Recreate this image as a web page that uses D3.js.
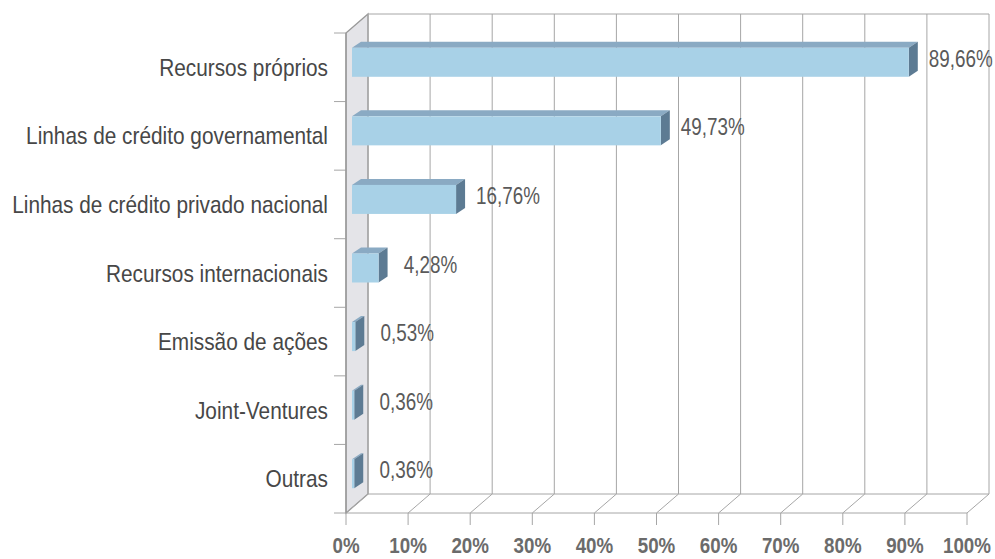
<!DOCTYPE html>
<html><head><meta charset="utf-8">
<script src="https://cdn.jsdelivr.net/npm/d3@7"></script>
<style>
body{margin:0;background:#fff;}
text{font-family:"Liberation Sans",Arial,sans-serif;}
</style></head>
<body><svg id="c" width="995" height="559"></svg>
<script>
const categories = ["Recursos próprios","Linhas de crédito governamental","Linhas de crédito privado nacional","Recursos internacionais","Emissão de ações","Joint-Ventures","Outras"];
const values = [89.66, 49.73, 16.76, 4.28, 0.53, 0.36, 0.36];
const valueLabels = ["89,66%","49,73%","16,76%","4,28%","0,53%","0,36%","0,36%"];
const ticks = [0,10,20,30,40,50,60,70,80,90,100];
const tickLabels = ticks.map(t => t + "%");

(function(){
const svg = d3.select("#c");
const pL = 346, pR = 967, pT = 33, pB = 513;
const DX = 22, DY = -19;           // wall depth offset
const bdx = 9, bdy = -6;           // bar depth
const barOff = 6, barOffY = -5;    // bar front position inside depth
const FS = 24, FSB = 22;

const x = d3.scaleLinear().domain([0,100]).range([pL, pR]);
const y = d3.scaleBand().domain(categories).range([pT, pB]).paddingInner(0).paddingOuter(0);
const gridCol = "#a6a6a6";

function measure(str, weight, fs) {
  const t = svg.append("text").attr("font-size", fs).attr("font-weight", weight).text(str);
  const w = t.node().getComputedTextLength(); t.remove(); return w;
}
const sx = 316 / measure(categories[2], "normal", FS);
const sxv = 64 / measure(valueLabels[0], "normal", FS);
const sxb = 48 / measure("100%", "bold", FSB);

function ctext(g, str, px, py, anchor, s, fs) {
  return g.append("text")
    .attr("transform", `translate(${px},${py}) scale(${s},1)`)
    .attr("text-anchor", anchor).attr("font-size", fs || FS).text(str);
}

svg.append("path")
  .attr("d", `M${pL},${pT} L${pL+DX},${pT+DY} L${pL+DX},${pB+DY} L${pL},${pB} Z`)
  .attr("fill", "#e4e4e8").attr("stroke", "#9a9a9a").attr("stroke-width", 1.3);

svg.append("g").selectAll("line").data(ticks).join("line")
  .attr("x1", d => x(d)+DX).attr("x2", d => x(d)+DX)
  .attr("y1", pT+DY).attr("y2", pB+DY)
  .attr("stroke", gridCol).attr("stroke-width", 1);
svg.append("line").attr("x1", x(0)+DX).attr("x2", x(100)+DX).attr("y1", pT+DY).attr("y2", pT+DY)
  .attr("stroke", gridCol);
svg.append("g").selectAll("line").data(ticks).join("line")
  .attr("x1", d => x(d)+DX).attr("x2", d => x(d))
  .attr("y1", pB+DY).attr("y2", pB)
  .attr("stroke", gridCol);
svg.append("line").attr("x1", x(0)+DX).attr("x2", x(100)+DX).attr("y1", pB+DY).attr("y2", pB+DY).attr("stroke", gridCol);
svg.append("line").attr("x1", x(0)).attr("x2", x(100)).attr("y1", pB).attr("y2", pB).attr("stroke", gridCol);
svg.append("g").selectAll("line").data(ticks).join("line")
  .attr("x1", d => x(d)).attr("x2", d => x(d))
  .attr("y1", pB).attr("y2", pB+12)
  .attr("stroke", gridCol);
const gx = svg.append("g");
ticks.forEach((d,i) => {
  ctext(gx, tickLabels[i], x(d), 553, "middle", sxb, FSB)
    .attr("font-weight", "bold").attr("fill", "#6b6b6b");
});

const bounds = categories.map(c => y(c)).concat([pB]);
svg.append("g").selectAll("line").data(bounds).join("line")
  .attr("x1", pL-12).attr("x2", pL).attr("y1", d => d).attr("y2", d => d)
  .attr("stroke", gridCol);
svg.append("line").attr("x1", pL).attr("x2", pL).attr("y1", pT).attr("y2", pB)
  .attr("stroke", "#9a9a9a").attr("stroke-width", 1.3);

const gy = svg.append("g");
categories.forEach(c => {
  ctext(gy, c, 328, y(c) + y.bandwidth()/2 + 8.6, "end", sx).attr("fill", "#474747");
});

const bh = 29;
const bars = svg.append("g").selectAll("g").data(categories).join("g");
bars.each(function(c, i) {
  const g = d3.select(this);
  const x0 = x(0) + barOff, x1 = x(values[i]) + barOff;
  const yc = y(c) + y.bandwidth()/2 + barOffY;
  const y0 = yc - bh/2, y1 = yc + bh/2;
  g.append("path").attr("d", `M${x0},${y0} L${x0+bdx},${y0+bdy} L${x1+bdx},${y0+bdy} L${x1},${y0} Z`)
    .attr("fill", "#8aaac3");
  g.append("path").attr("d", `M${x1},${y0} L${x1+bdx},${y0+bdy} L${x1+bdx},${y1+bdy} L${x1},${y1} Z`)
    .attr("fill", "#5d7b93");
  g.append("rect").attr("x", x0).attr("y", y0).attr("width", Math.max(0, x1-x0)).attr("height", bh)
    .attr("fill", "#a8d1e7");
  const w = measure(valueLabels[i], "normal", FS) * sxv;
  const cx = Math.min(x1 + 52, 993 - w/2);
  ctext(g, valueLabels[i], cx, yc - 4 + 8.6, "middle", sxv).attr("fill", "#5a5a5a");
});
})();
</script></body></html>
